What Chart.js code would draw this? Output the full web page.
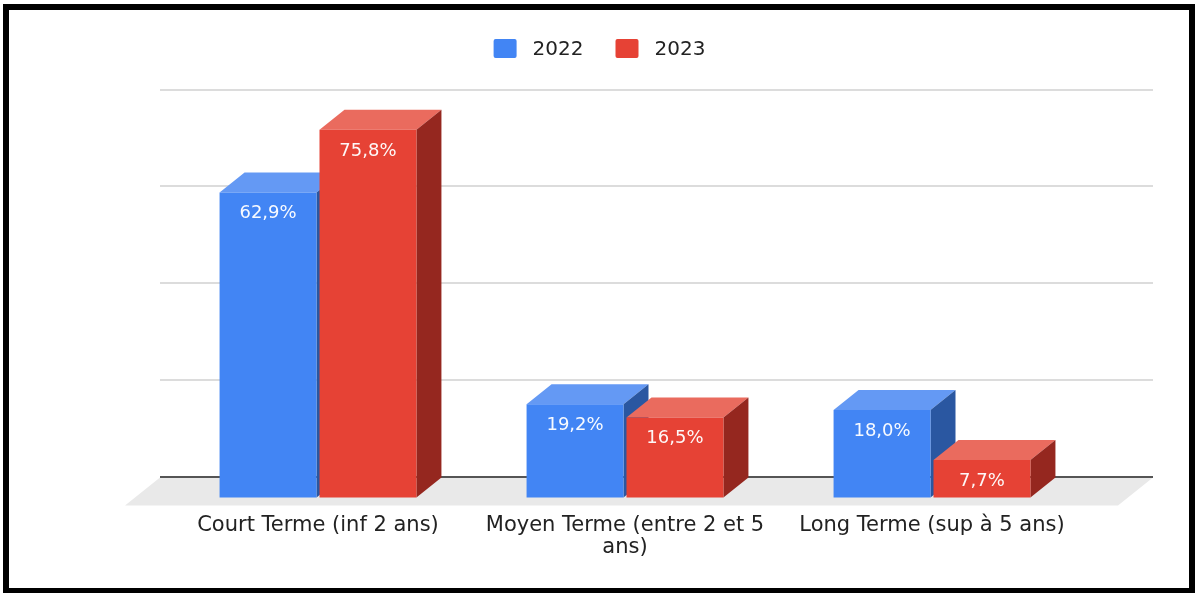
<!DOCTYPE html>
<html>
<head>
<meta charset="utf-8">
<script src="https://cdn.jsdelivr.net/npm/chart.js@4.4.0/dist/chart.umd.min.js"></script>
<style>
  html, body { margin: 0; padding: 0; background: #fff; }
  #wrap { width: 1195px; height: 593px; }
</style>
</head>
<body>
<div id="wrap"><canvas id="maturite" width="1195" height="593"></canvas></div>
<script>
var categories = ['Court Terme (inf 2 ans)', ['Moyen Terme (entre 2 et 5', 'ans)'], 'Long Terme (sup à 5 ans)'];
var seriesNames = ['2022', '2023'];
var values2022 = [62.9, 19.2, 18.0];
var values2023 = [75.8, 16.5, 7.7];
var yTicks = [0, 20, 40, 60, 80];

// profondeur de l'effet 3D
var depthX = 25, depthY = 20;
var font = '"DejaVu Sans", "Liberation Sans", Arial, sans-serif';

function fmt(v) {
    return v.toFixed(1).replace('.', ',') + '%';
}

var bars3d = {
    id: 'bars3d',
    beforeDatasetsDraw: function (chart) {
        var c = chart.ctx, y = chart.scales.y;
        var left = 160, right = 1153;
        var base = y.getPixelForValue(0);

        c.save();
        // sol
        c.fillStyle = '#e9e9e9';
        c.beginPath();
        c.moveTo(left, base);
        c.lineTo(right, base);
        c.lineTo(right - 35, base + 28);
        c.lineTo(left - 35, base + 28);
        c.closePath();
        c.fill();

        // lignes de grille
        yTicks.forEach(function (v) {
            var py = Math.round(y.getPixelForValue(v));
            c.beginPath();
            if (v === 0) {
                c.strokeStyle = '#555';
                c.lineWidth = 2;
            } else {
                c.strokeStyle = '#d0d0d0';
                c.lineWidth = 1.5;
            }
            c.moveTo(left, py);
            c.lineTo(right, py);
            c.stroke();
        });

        // faces du dessus et de côté
        chart.data.datasets.forEach(function (ds, i) {
            chart.getDatasetMeta(i).data.forEach(function (bar) {
                var p = bar.getProps(['x', 'y', 'base', 'width'], true);
                var l = p.x - p.width / 2, r = p.x + p.width / 2;
                c.fillStyle = ds.topColor;
                c.beginPath();
                c.moveTo(l - depthX, p.y + depthY);
                c.lineTo(l, p.y);
                c.lineTo(r, p.y);
                c.lineTo(r - depthX, p.y + depthY);
                c.closePath();
                c.fill();
                c.fillStyle = ds.sideColor;
                c.beginPath();
                c.moveTo(r - depthX, p.y + depthY);
                c.lineTo(r, p.y);
                c.lineTo(r, p.base);
                c.lineTo(r - depthX, p.base + depthY);
                c.closePath();
                c.fill();
            });
        });
        c.restore();

        // la face avant est dessinée par Chart.js, décalée vers l'avant
        c.save();
        c.translate(-depthX, depthY);
    },
    afterDatasetsDraw: function (chart) {
        var c = chart.ctx;
        c.restore();

        c.save();
        c.font = '18px ' + font;
        c.fillStyle = 'rgba(255,255,255,0.96)';
        c.textAlign = 'center';
        c.textBaseline = 'middle';
        chart.data.datasets.forEach(function (ds, i) {
            chart.getDatasetMeta(i).data.forEach(function (bar, j) {
                var p = bar.getProps(['x', 'y'], true);
                c.fillText(fmt(ds.data[j]), p.x - depthX, p.y + depthY + 21);
            });
        });
        c.restore();
    },
    afterDraw: function (chart) {
        var c = chart.ctx;
        c.save();
        // légende
        c.font = '20px ' + font;
        c.textBaseline = 'middle';
        c.textAlign = 'left';
        var boxW = 23, boxH = 19, gap = 16, spacing = 32;
        var items = chart.data.datasets.map(function (ds) {
            return { label: ds.label, color: ds.backgroundColor, w: c.measureText(ds.label).width };
        });
        var total = 0;
        items.forEach(function (it, k) {
            total += boxW + gap + it.w + (k ? spacing : 0);
        });
        var x = chart.width / 2 + 2 - total / 2, cy = 48.5;
        items.forEach(function (it) {
            c.fillStyle = it.color;
            c.beginPath();
            c.roundRect(x, cy - boxH / 2, boxW, boxH, 2);
            c.fill();
            c.fillStyle = '#222';
            c.fillText(it.label, x + boxW + gap, cy + 1);
            x += boxW + gap + it.w + spacing;
        });

        // cadre noir
        c.fillStyle = '#000';
        c.fillRect(3, 4, 6, 589);
        c.fillRect(3, 4, 1192, 6);
        c.fillRect(1189, 4, 6, 589);
        c.fillRect(3, 588, 1192, 5);
        c.restore();
    }
};

var ctx = document.getElementById('maturite').getContext('2d');

var maturiteChart = new Chart(ctx, {
    type: 'bar',
    data: {
        labels: categories,
        datasets: [{
            label: seriesNames[0],
            data: values2022,
            backgroundColor: '#4285f4',
            topColor: '#6499f4',
            sideColor: '#2a57a1'
        }, {
            label: seriesNames[1],
            data: values2023,
            backgroundColor: '#e64235',
            topColor: '#ea6b5e',
            sideColor: '#95271f'
        }]
    },
    options: {
        responsive: false,
        animation: false,
        events: [],
        layout: {
            padding: { left: 189.5, right: 84.5, top: 89.5, bottom: -2.5 }
        },
        datasets: {
            bar: {
                barPercentage: 0.97,
                categoryPercentage: 0.651,
                borderWidth: 0,
                clip: false
            }
        },
        plugins: {
            legend: { display: false },
            tooltip: { enabled: false }
        },
        scales: {
            x: {
                grid: { display: false, drawTicks: false },
                border: { display: false },
                ticks: {
                    color: '#222',
                    font: { family: font, size: 21, lineHeight: 1.05 },
                    padding: 37,
                    labelOffset: -depthX,
                    maxRotation: 0,
                    autoSkip: false
                }
            },
            y: {
                min: yTicks[0],
                max: yTicks[yTicks.length - 1],
                grid: { display: false, drawTicks: false },
                border: { display: false },
                ticks: { display: false, stepSize: 20 }
            }
        }
    },
    plugins: [bars3d]
});
</script>
</body>
</html>
